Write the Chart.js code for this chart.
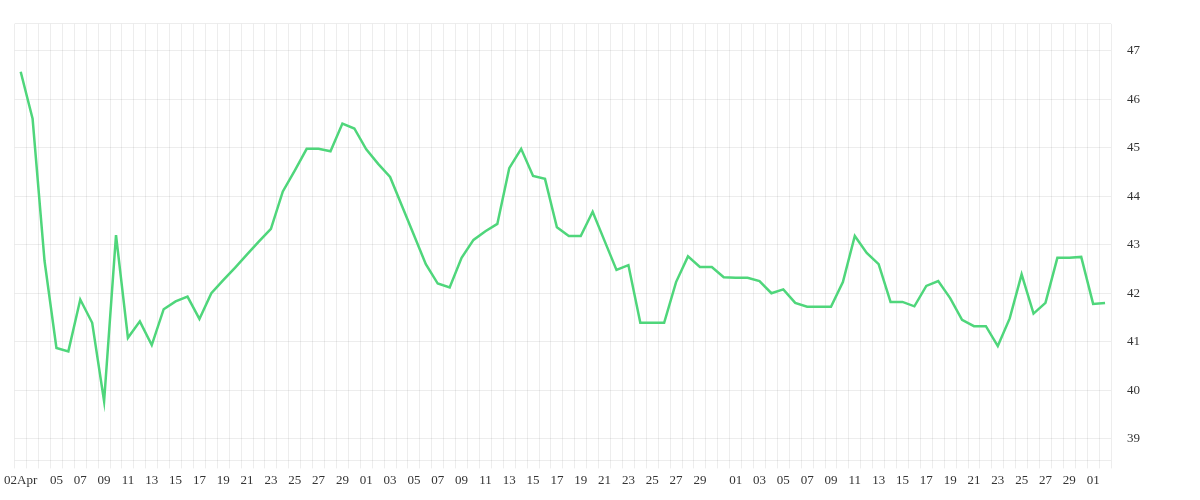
<!DOCTYPE html>
<html><head><meta charset="utf-8">
<script src="https://cdn.jsdelivr.net/npm/chart.js@4/dist/chart.umd.min.js"></script>
<style>html,body{margin:0;padding:0;background:#fff}</style>
</head><body>
<canvas id="c" width="1200" height="500"></canvas>
<script>
const startDate = [2024, 3, 2]; // 02 Apr
const values = [
46.57,45.6,42.67,40.87,40.8,41.87,41.39,39.77,43.2,41.08,
41.42,40.93,41.67,41.83,41.93,41.47,42.0,42.27,42.53,42.8,
43.07,43.33,44.1,44.53,44.98,44.98,44.93,45.5,45.4,44.97,
44.67,44.4,43.8,43.2,42.6,42.2,42.12,42.73,43.1,43.28,
43.43,44.58,44.98,44.42,44.36,43.36,43.18,43.18,43.68,43.08,
42.48,42.58,41.39,41.39,41.39,42.23,42.76,42.54,42.54,42.33,
42.32,42.32,42.25,42.0,42.08,41.8,41.72,41.72,41.72,42.23,
43.18,42.83,42.6,41.82,41.82,41.73,42.15,42.25,41.9,41.45,
41.32,41.32,40.91,41.48,42.39,41.58,41.8,42.73,42.73,42.75,
41.78,41.8];
const days = values.map((v,i)=>{const d=new Date(startDate[0],startDate[1],startDate[2]+i);return d;});
const categories = days.map(d=>String(d.getDate()).padStart(2,'0'));
const tickLabels = days.map((d,i)=>{
  const dd=d.getDate();
  if(i===0) return '02Apr';
  if(i===1) return '';
  return (dd%2===1 && dd!==31) ? String(dd).padStart(2,'0') : '';
});
const font = {family:'"Liberation Serif", serif', size:13};
new Chart(document.getElementById('c'),{
  type:'line',
  data:{labels:categories,datasets:[{data:values,borderColor:'#4fd67b',borderWidth:2.5,pointRadius:0,tension:0,fill:false}]},
  options:{
    responsive:false,animation:false,
    layout:{padding:{left:14,top:12,right:44,bottom:8}},
    plugins:{legend:{display:false},tooltip:{enabled:false}},
    scales:{
      x:{offset:true,grid:{offset:true,color:'rgba(0,0,0,0.07)',tickLength:8},border:{display:false},
        ticks:{autoSkip:false,maxRotation:0,color:'#333',font,padding:4,callback:(v,i)=>tickLabels[i]}},
      y:{position:'right',min:38.55,max:47.56,grid:{color:'rgba(0,0,0,0.07)',drawTicks:false},border:{display:false},
        afterBuildTicks:(ax)=>{const t=[{value:38.55}];for(let k=39;k<=47;k++)t.push({value:k});t.push({value:47.56});ax.ticks=t;},
        ticks:{color:'#333',font,padding:16,callback:(v)=>Number.isInteger(v)?String(v):''}}
    }
  }
});
</script>
</body></html>
